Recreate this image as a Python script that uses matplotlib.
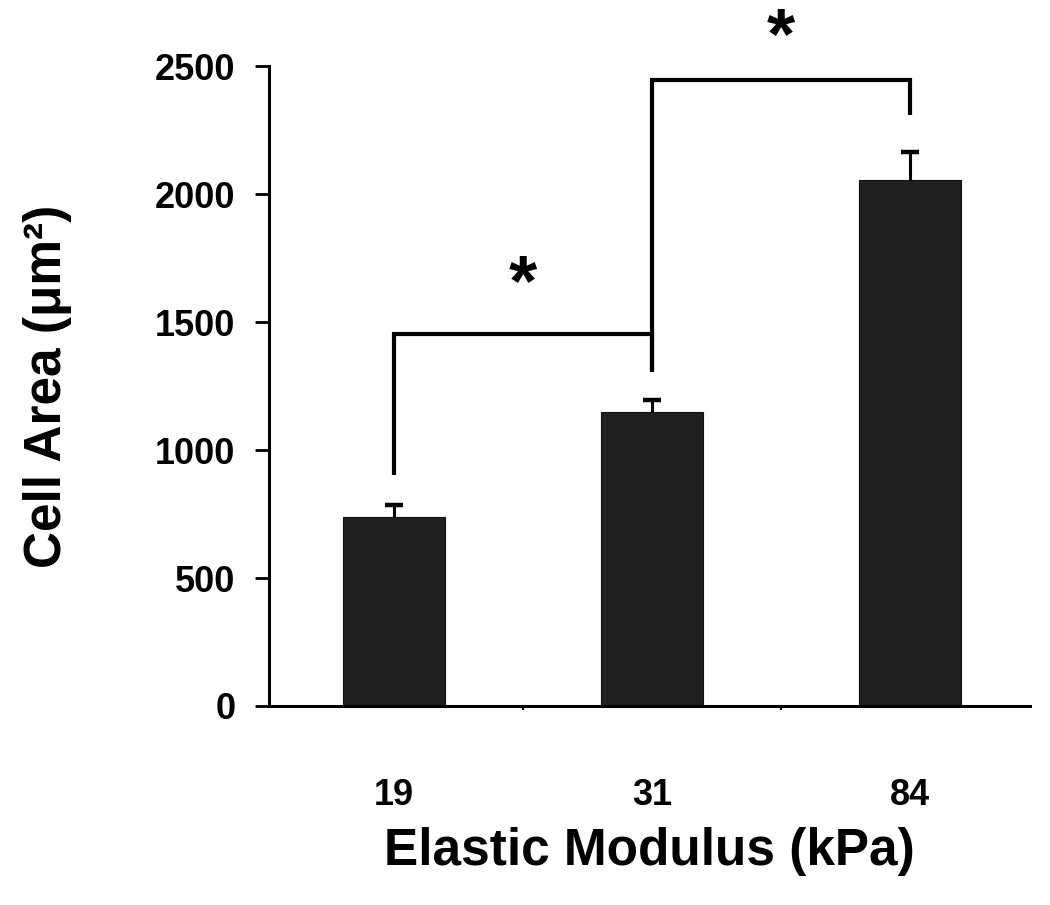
import matplotlib
matplotlib.use("Agg")
import matplotlib.pyplot as plt
import numpy as np

categories = ["19", "31", "84"]
means = [738, 1148, 2055]
errors = [47, 47, 109]
yticks = [0, 500, 1000, 1500, 2000, 2500]

# significance brackets: (left cat, right cat, bar height, left leg end, right leg end)
brackets = [(0, 1, 1453, 902, 1305), (1, 2, 2445, 1305, 2309)]
star_heights = [1640, 2606]

plt.rcParams['font.family'] = ['Liberation Sans', 'DejaVu Sans']
plt.rcParams['font.weight'] = 'bold'

fig = plt.figure(figsize=(10.5, 9.05), dpi=100)
ax = fig.add_axes([0.256, 0.2199, 0.725, 0.7071])

x = np.arange(len(categories))
ax.bar(x, means, width=0.395, color='#202020', edgecolor='#101010', linewidth=0.8, zorder=2)
eb = ax.errorbar(x, means, yerr=[np.zeros(len(means)), errors], fmt='none', ecolor='black',
                 elinewidth=2.2, capsize=6.5, capthick=3.2, zorder=3)
caps = eb[1]
if len(caps) >= 2:
    caps[0].set_visible(False)

lw = 3.0
for (l, r, h, le, re) in brackets:
    ax.plot([l, l, r, r], [le, h, h, re], color='black', lw=lw, clip_on=False,
            solid_capstyle='butt', solid_joinstyle='miter', zorder=4)
for i, sh in enumerate(star_heights):
    ax.text(i + 0.5, sh, '*', ha='center', va='center', fontsize=52, fontweight='bold',
            clip_on=False)

ax.set_xlim(-0.485, 2.465)
ax.set_ylim(0, 2500)
ax.set_yticks(yticks)
ax.set_yticklabels([str(v) for v in yticks])
ax.set_xticks(x)
ax.set_xticklabels(categories)
ax.set_xticks([0.5, 1.5], minor=True)

for s in ['top', 'right']:
    ax.spines[s].set_visible(False)
for s in ['left', 'bottom']:
    ax.spines[s].set_linewidth(2.2)

ax.tick_params(axis='y', direction='out', length=10, width=2, pad=14, labelsize=26)
ax.tick_params(axis='x', which='major', length=0, pad=52, labelsize=26)
ax.tick_params(axis='x', which='minor', direction='out', length=3, width=1.5)
for lab in ax.get_xticklabels() + ax.get_yticklabels():
    lab.set_fontweight('bold')

ax.set_xlabel('Elastic Modulus (kPa)', fontsize=37, fontweight='bold', labelpad=10)
ax.set_ylabel('Cell Area (μm²)', fontsize=37, fontweight='bold')
ax.yaxis.set_label_coords(-0.258, 0.5)

fig.savefig('out.png', dpi=100)
